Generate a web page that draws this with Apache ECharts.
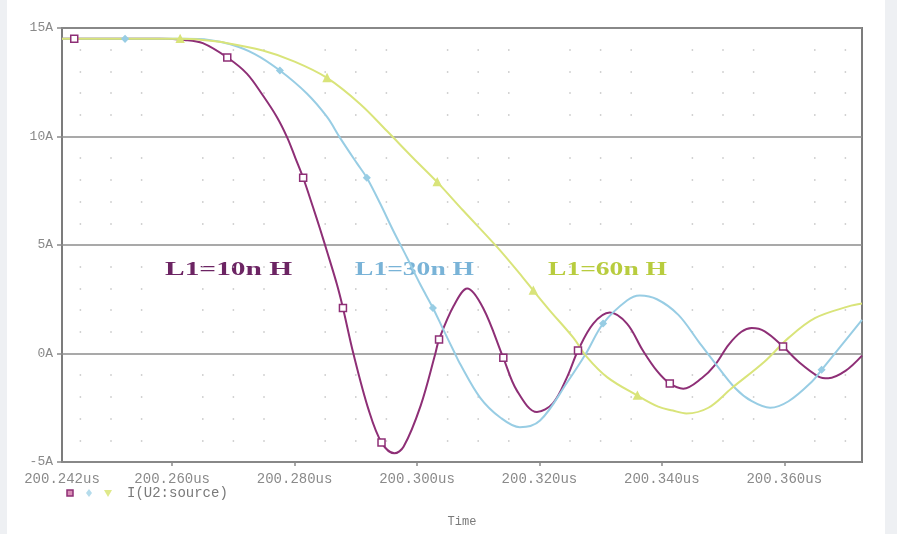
<!DOCTYPE html>
<html>
<head>
<meta charset="utf-8">
<script src="https://cdn.jsdelivr.net/npm/echarts@6/dist/echarts.min.js"></script>
<style>
  html, body { margin: 0; padding: 0; }
  #chart {
    width: 897px;
    height: 534px;
    background: linear-gradient(to right, #eef0f3 0 7px, #ffffff 7px 885px, #eef0f3 885px);
  }
</style>
</head>
<body>
<div id="chart"></div>
<script>
// time in ns after 200us, current in A
const t10 = [242, 244, 258, 262, 265, 269, 272.2, 274.8, 277.1, 278.8, 280.1, 281.4, 283, 284.2, 285.3, 286.9, 287.9, 289.6, 292.1, 294.2, 296.3, 297.8, 300.6, 303, 303.6, 306, 308.2, 310.8, 314.1, 316.3, 319.6, 322.2, 324.5, 326.3, 328.8, 331.5, 334.3, 336.9, 339.2, 341.3, 343.5, 346.5, 348.7, 350.9, 353, 354.7, 356.8, 359.8, 362.3, 365.6, 367.2, 370, 372.7];
const i10 = [14.5, 14.5, 14.5, 14.45, 14.3, 13.64, 12.9, 11.9, 10.9, 9.95, 9.03, 8.1, 6.75, 5.7, 4.7, 3.2, 2.1, 0, -2.6, -4.1, -4.6, -4.3, -2.4, 0, 0.65, 2.2, 3.0, 2.1, -0.2, -1.7, -2.7, -2.3, -1.1, 0.14, 1.38, 1.89, 1.38, 0.14, -0.8, -1.38, -1.62, -1.14, -0.52, 0.4, 1.0, 1.17, 1.02, 0.32, -0.37, -1.06, -1.14, -0.8, -0.1];
const mk10 = [244, 269, 281.4, 287.9, 294.2, 303.6, 314.1, 326.3, 341.3, 359.8];

const t30 = [242, 252.3, 262, 266, 269.5, 273.5, 277.6, 282, 285.3, 287.4, 290.2, 291.8, 294, 296.1, 298.4, 300.5, 302.6, 304.3, 306.2, 307, 310.3, 313.6, 316.8, 320.1, 324.6, 327.6, 330.4, 334.3, 336.4, 339.2, 342.7, 346, 348.5, 352, 354.7, 357.7, 360.7, 364.5, 366.1, 369.4, 372.7];
const i30 = [14.5, 14.5, 14.5, 14.45, 14.25, 13.8, 13.04, 11.98, 10.9, 9.95, 8.76, 8.1, 6.9, 5.67, 4.4, 3.2, 2.1, 1.1, 0, -0.46, -2.03, -2.95, -3.4, -3.09, -1.3, 0, 1.38, 2.44, 2.67, 2.5, 1.78, 0.55, -0.37, -1.6, -2.2, -2.5, -2.2, -1.3, -0.75, 0.4, 1.55];
const mk30 = [252.3, 277.6, 291.8, 302.6, 330.4, 366.1];

const t60 = [242, 261.3, 265, 268, 274.8, 280, 285.3, 290.7, 295.1, 299.4, 303.3, 307.5, 313.1, 317.3, 319, 321.7, 325.5, 327.8, 331.1, 336, 339.4, 341.8, 344, 347.6, 351.4, 356.8, 360.7, 365, 370.5, 372.7];
const i60 = [14.5, 14.5, 14.45, 14.35, 13.96, 13.45, 12.7, 11.5, 10.25, 9.0, 7.9, 6.6, 4.9, 3.5, 2.9, 1.98, 0.74, -0.18, -1.1, -1.94, -2.45, -2.63, -2.76, -2.5, -1.6, -0.37, 0.72, 1.63, 2.17, 2.3];
const mk60 = [261.3, 285.3, 303.3, 319, 336];

const xLabels = [242, 260, 280, 300, 320, 340, 360];
const xTicks = [260, 280, 300, 320, 340, 360];
const curveNames = ['L1=10n H', 'L1=30n H', 'L1=60n H'];

const mono = '"Liberation Mono", "DejaVu Sans Mono", monospace';

function pairs(ts, is) {
  return ts.map((t, k) => [t, is[k]]);
}

function curve(name, ts, is, marks, color, symbol, size, fill) {
  return {
    name: name,
    type: 'line',
    data: pairs(ts, is),
    smooth: 0.35,
    symbol: v => marks.includes(v[0]) ? symbol : 'none',
    symbolSize: size,
    showAllSymbol: true,
    lineStyle: { color: color, width: 2 },
    itemStyle: { color: fill, borderColor: color, borderWidth: 1.5 },
    z: 3
  };
}

const chart = echarts.init(document.getElementById('chart'));

const option = {
  backgroundColor: 'transparent',
  animation: false,
  grid: {
    left: 62,
    top: 28,
    width: 800,
    height: 434,
    show: true,
    borderColor: '#7c7c7c',
    borderWidth: 2,
    backgroundColor: 'transparent'
  },
  xAxis: {
    type: 'value',
    min: 242,
    max: 372.7,
    name: 'Time',
    nameLocation: 'middle',
    nameGap: 54,
    nameTextStyle: { fontFamily: mono, fontSize: 12, color: '#7a7a7a' },
    axisLine: { show: false, onZero: false },
    axisTick: {
      show: true,
      customValues: xTicks,
      length: 4,
      lineStyle: { color: '#8a8a8a', width: 1.5 }
    },
    axisLabel: {
      customValues: xLabels,
      fontFamily: mono,
      fontSize: 14,
      color: '#8a8a8a',
      margin: 10,
      formatter: v => '200.' + String(v).padStart(3, '0') + 'us'
    },
    splitLine: { show: false }
  },
  yAxis: {
    type: 'value',
    min: -5,
    max: 15,
    interval: 5,
    axisLine: { show: false, onZero: false },
    axisTick: {
      show: true,
      length: 5,
      lineStyle: { color: '#8a8a8a', width: 1.5 }
    },
    axisLabel: {
      fontFamily: mono,
      fontSize: 13,
      color: '#8a8a8a',
      margin: 9,
      formatter: v => v + 'A'
    },
    splitLine: { show: true, lineStyle: { color: '#8c8c8c', width: 1.5 } },
    minorTick: { show: false, splitNumber: 5 },
    minorSplitLine: {
      show: true,
      lineStyle: {
        color: '#c4c4c4',
        width: 1.5,
        type: [1.5, 29.1, 1.5, 29.1, 1.5, 59.7],
        dashOffset: 104.75
      }
    }
  },
  series: [
    curve(curveNames[0], t10, i10, mk10, '#8e2f76', 'rect', 7, '#ffffff'),
    curve(curveNames[1], t30, i30, mk30, '#98cde4', 'diamond', 6, '#98cde4'),
    curve(curveNames[2], t60, i60, mk60, '#d9e47a', 'triangle', 7, '#d9e47a')
  ],
  graphic: [
    {
      type: 'text', x: 165, y: 270, scaleX: 1.55,
      style: { text: curveNames[0], fill: '#6c2463', font: 'bold 19px "Liberation Serif", serif', textVerticalAlign: 'middle' }
    },
    {
      type: 'text', x: 355, y: 270, scaleX: 1.45,
      style: { text: curveNames[1], fill: '#79b3d7', font: 'bold 19px "Liberation Serif", serif', textVerticalAlign: 'middle' }
    },
    {
      type: 'text', x: 548, y: 270, scaleX: 1.45,
      style: { text: curveNames[2], fill: '#b8cc3e', font: 'bold 19px "Liberation Serif", serif', textVerticalAlign: 'middle' }
    },
    {
      type: 'rect', shape: { x: 67, y: 490, width: 6, height: 6 },
      style: { fill: '#d98fb7', stroke: '#8e2f76', lineWidth: 1.5 }
    },
    {
      type: 'polygon', shape: { points: [[89, 489], [92, 493], [89, 497], [86, 493]] },
      style: { fill: '#b5dcec' }
    },
    {
      type: 'polygon', shape: { points: [[104, 490], [112, 490], [108, 497]] },
      style: { fill: '#dfe98a' }
    },
    {
      type: 'text', x: 127, y: 493,
      style: { text: 'I(U2:source)', fill: '#7a7a7a', font: '14px ' + mono, textVerticalAlign: 'middle' }
    }
  ]
};

chart.setOption(option);
</script>
</body>
</html>
